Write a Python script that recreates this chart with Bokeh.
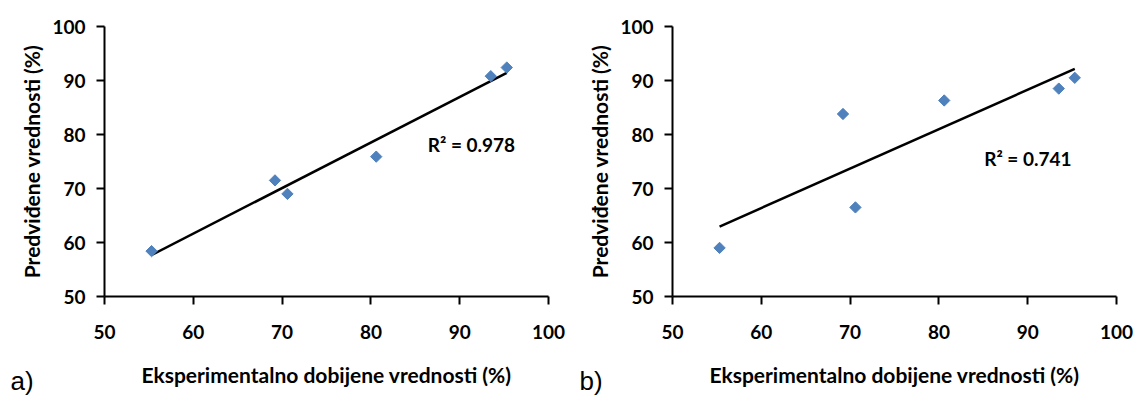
import numpy as np
from bokeh.plotting import figure
from bokeh.layouts import row
from bokeh.models import Range1d, FixedTicker, Label, Title
from bokeh.embed import file_html
from bokeh.resources import INLINE

# Data
experimental = [55.3, 69.2, 70.6, 80.6, 93.5, 95.3]
predicted_a = [58.4, 71.5, 69.0, 75.9, 90.8, 92.4]
predicted_b = [59.0, 83.8, 66.5, 86.3, 88.5, 90.5]
r2_texts = ["R² = 0.978", "R² = 0.741"]
panel_tags = ["a)", "b)"]
ticks = [50, 60, 70, 80, 90, 100]
x_title = "Eksperimentalno dobijene vrednosti (%)"
y_title = "Predviđene vrednosti (%)"

FONT = "Lato"
BLUE = "#4F81BD"


def make_panel(xs, ys, r2_text, tag, width, height, bl, br, bt, bb,
               r2_pos, tag_offset):
    p = figure(width=width, height=height, output_backend="svg",
               toolbar_location=None, x_range=Range1d(50, 100),
               y_range=Range1d(50, 100), min_border_left=bl,
               min_border_right=br, min_border_top=bt, min_border_bottom=bb)
    p.outline_line_color = None
    p.grid.visible = False
    p.background_fill_color = "white"
    p.border_fill_color = "white"
    for ax in (p.xaxis[0], p.yaxis[0]):
        ax.ticker = FixedTicker(ticks=ticks)
        ax.axis_line_width = 2
        ax.axis_line_color = "black"
        ax.major_tick_line_width = 2
        ax.major_tick_line_color = "black"
        ax.major_tick_out = 8
        ax.major_tick_in = 0
        ax.minor_tick_line_color = None
        ax.major_label_text_font = FONT
        ax.major_label_text_font_style = "bold"
        ax.major_label_text_font_size = "19px"
        ax.major_label_text_color = "black"
        ax.axis_label_text_font = FONT
        ax.axis_label_text_font_style = "bold"
        ax.axis_label_text_color = "black"
    p.xaxis.axis_label = x_title
    p.yaxis.axis_label = y_title
    p.xaxis.axis_label_text_font_size = "21px"
    p.yaxis.axis_label_text_font_size = "21px"
    p.xaxis.major_label_standoff = 20
    p.xaxis.axis_label_standoff = 20
    p.yaxis.major_label_standoff = 11
    p.yaxis.axis_label_standoff = 5

    # trend line from linear regression
    xa = np.array(xs)
    ya = np.array(ys)
    k, b = np.polyfit(xa, ya, 1)
    lx = np.array([xa.min(), xa.max()])
    p.line(lx, k * lx + b, line_color="black", line_width=2.5)

    p.scatter(xs, ys, marker="square", angle=np.pi / 4, size=8,
              fill_color=BLUE, line_color=BLUE)

    p.add_layout(Label(x=r2_pos[0], y=r2_pos[1], text=r2_text,
                       text_font=FONT, text_font_style="bold",
                       text_font_size="19px", text_color="black",
                       text_baseline="middle", text_align="left"))
    p.add_layout(Title(text=tag, align="left", vertical_align="top",
                       offset=tag_offset, standoff=-48,
                       text_font="Liberation Sans",
                       text_font_size="26px", text_font_style="normal",
                       text_color="black"), "below")
    return p


p1 = make_panel(experimental, predicted_a, r2_texts[0], panel_tags[0],
                578, 398, 104, 30, 24, 102, (86.4, 78.2), -94)
p2 = make_panel(experimental, predicted_b, r2_texts[1], panel_tags[1],
                558, 398, 94, 20, 26, 99, (85.1, 75.6), -93)

layout = row(p1, p2)
open("out.html", "w").write(file_html(layout, INLINE))
